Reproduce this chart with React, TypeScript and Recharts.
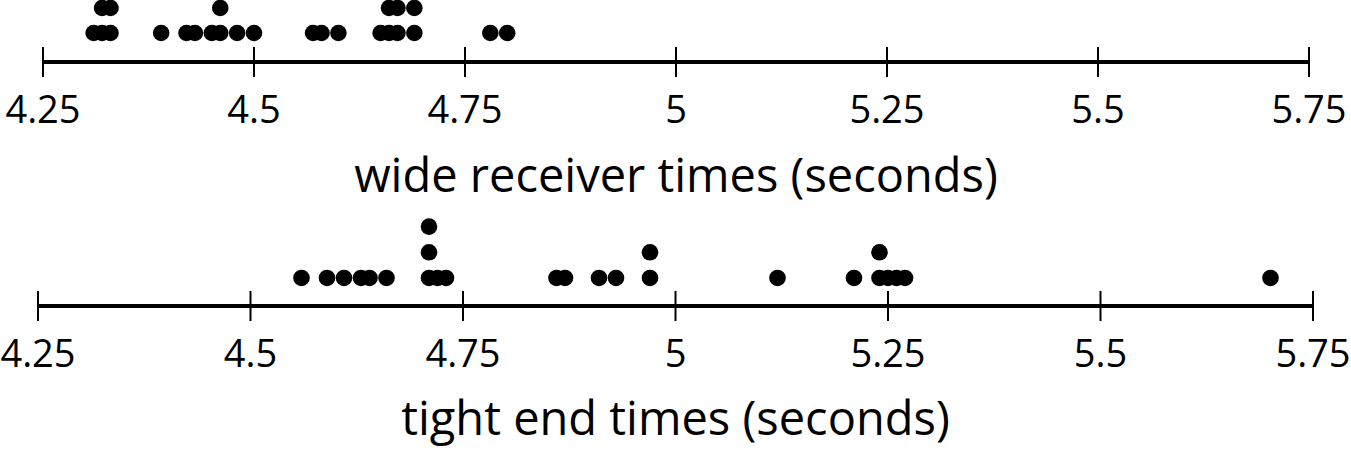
import { ScatterChart, Scatter, XAxis, YAxis } from 'recharts';

const wideReceiverTimes = [
  4.31, 4.32, 4.32, 4.33, 4.33, 4.39, 4.42, 4.43, 4.45, 4.46, 4.46, 4.48, 4.5,
  4.57, 4.58, 4.6, 4.65, 4.66, 4.66, 4.67, 4.67, 4.69, 4.69, 4.78, 4.8,
];

const tightEndTimes = [
  4.56, 4.59, 4.61, 4.63, 4.64, 4.66, 4.71, 4.71, 4.71, 4.72, 4.73, 4.86, 4.87,
  4.91, 4.93, 4.97, 4.97, 5.12, 5.21, 5.24, 5.24, 5.25, 5.26, 5.27, 5.7,
];

const tickValues = [4.25, 4.5, 4.75, 5, 5.25, 5.5, 5.75];

const FONT = '"Open Sans", "Noto Sans", sans-serif';

// stack repeated values into a dot plot
const toDots = (values: number[]) => {
  const seen: Record<string, number> = {};
  return values.map((v) => {
    const key = v.toFixed(2);
    seen[key] = (seen[key] || 0) + 1;
    return { x: v, y: seen[key] };
  });
};

const Tick = (props: any) => {
  const { x, y, payload } = props;
  return (
    <g>
      <line x1={x} x2={x} y1={y - 15} y2={y + 15} stroke="#000" strokeWidth={2} />
      <text x={x} y={y + 61} textAnchor="middle" fontSize={38} fill="#000" fontFamily={FONT}>
        {String(payload.value)}
      </text>
    </g>
  );
};

const Dot = (props: any) => <circle cx={props.cx} cy={props.cy} r={8.3} fill="#000" />;

type PlotProps = {
  values: number[];
  title: string;
  width: number;
  height: number;
  left: number;
  right: number;
  axisHeight: number;
  titleOffset: number;
  yDomain: [number, number];
};

const DotPlot = ({ values, title, width, height, left, right, axisHeight, titleOffset, yDomain }: PlotProps) => (
  <ScatterChart width={width} height={height} margin={{ top: 0, right, left, bottom: 0 }}>
    <XAxis
      type="number"
      dataKey="x"
      domain={[4.25, 5.75]}
      ticks={tickValues}
      allowDataOverflow
      interval={0}
      height={axisHeight}
      tickSize={0}
      tickMargin={0}
      tickLine={false}
      tick={<Tick />}
      axisLine={{ stroke: '#000', strokeWidth: 4 }}
      label={{
        value: title,
        position: 'insideBottom',
        offset: titleOffset,
        fontSize: 47,
        fill: '#000',
        fontFamily: FONT,
      }}
    />
    <YAxis type="number" dataKey="y" domain={yDomain} allowDataOverflow hide />
    <Scatter data={toDots(values)} shape={<Dot />} isAnimationActive={false} />
  </ScatterChart>
);

export default function App() {
  return (
    <div style={{ position: 'absolute', left: 0, top: 0, width: 1351, height: 450, background: '#fff' }}>
      <div style={{ position: 'absolute', left: 0, top: 0 }}>
        <DotPlot
          values={wideReceiverTimes}
          title="wide receiver times (seconds)"
          width={1351}
          height={210}
          left={43}
          right={42}
          axisHeight={148}
          titleOffset={18}
          yDomain={[-0.16, 2.32]}
        />
      </div>
      <div style={{ position: 'absolute', left: 0, top: 200 }}>
        <DotPlot
          values={tightEndTimes}
          title="tight end times (seconds)"
          width={1351}
          height={250}
          left={38}
          right={38}
          axisHeight={144}
          titleOffset={15}
          yDomain={[-0.09, 4.035]}
        />
      </div>
    </div>
  );
}
